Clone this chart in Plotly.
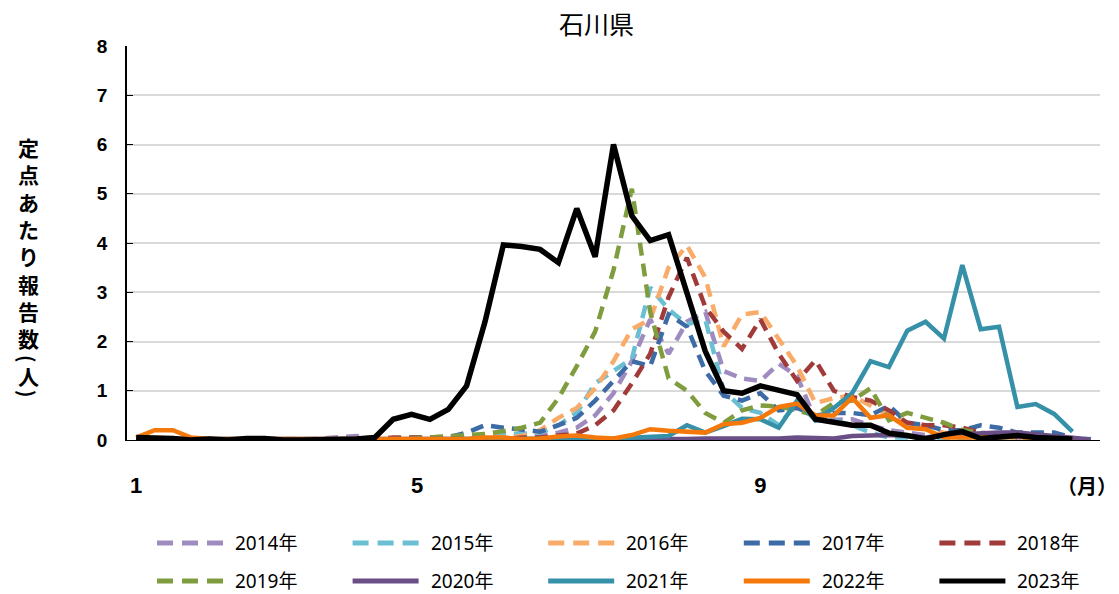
import plotly.graph_objects as go

# ---------------- data (weekly reports per sentinel) ----------------
years = ["2014年", "2015年", "2016年", "2017年", "2018年",
         "2019年", "2020年", "2021年", "2022年", "2023年"]

y2014 = [0.02, 0.02, 0, 0, 0.02, 0, 0.02, 0.02, 0, 0, 0.03,
         0.05, 0.08, 0.02, 0, 0.02, 0.02, 0.02, 0.03, 0.05, 0.05,
         0.08, 0.1, 0.15, 0.25, 0.5, 0.95, 1.6, 2.45, 1.75, 2.4,
         2.6, 1.4, 1.25, 1.2, 1.55, 1.3, 0.4, 0.4, 0.42, 0.3,
         0.2, 0.15, 0.1, 0.08, 0.05, 0.1, 0.05, 0.05, 0.03, 0.02, 0.02]
y2015 = [0.02, 0.02, 0.02, 0, 0, 0.02, 0, 0, 0.02, 0, 0, 0, 0, 0.02, 0.02, 0.05, 0.05, 0.05,
         0.05, 0.08, 0.1, 0.12, 0.15, 0.3, 0.55, 1.15, 1.4, 1.65,
         3.1, 2.65, 2.35, 2.45, 1.0, 0.65, 0.55, 0.3, 0.75, 0.45,
         0.4, 0.3, 0.15, 0.05, 0.05, 0.03, 0.02, 0.02, 0.02, 0.02,
         0.02, 0.02, 0.02, 0.02, 0.02]
y2016 = [0.02, 0, 0, 0, 0.02, 0, 0, 0.02, 0, 0, 0, 0, 0, 0.02, 0.03, 0.03, 0.05, 0.08,
         0.1, 0.08, 0.05, 0.08, 0.2, 0.45, 0.65, 1.05, 1.6, 2.25,
         2.45, 3.5, 3.95, 3.3, 1.9, 2.55, 2.6, 2.05, 1.5, 0.75,
         0.85, 0.9, 0.7, 0.5, 0.35, 0.25, 0.15, 0.1, 0.08, 0.05,
         0.05, 0.02, 0.02, 0.0]
y2017 = [0, 0, 0.02, 0, 0, 0, 0.02, 0, 0, 0, 0, 0.02, 0, 0, 0.02, 0.02, 0.03, 0.05,
         0.15, 0.3, 0.25, 0.2, 0.17, 0.3, 0.45, 0.8, 1.2, 1.6,
         1.5, 2.55, 2.3, 1.4, 0.9, 0.8, 0.95, 0.6, 0.65, 0.5,
         0.55, 0.55, 0.5, 0.7, 0.35, 0.3, 0.2, 0.2, 0.3, 0.25,
         0.15, 0.15, 0.15, 0.05]
y2018 = [0, 0, 0, 0, 0, 0.02, 0, 0, 0, 0, 0.02, 0, 0, 0.02, 0.05, 0.05, 0.05, 0.02,
         0.03, 0.02, 0.02, 0.05, 0.05,
         0.1, 0.13, 0.3, 0.6, 1.15, 1.75, 2.9, 3.7, 2.7, 2.2,
         1.85, 2.45, 1.75, 1.2, 1.62, 1.0, 0.87, 0.8, 0.6, 0.35,
         0.3, 0.3, 0.25, 0.15, 0.1, 0.05, 0.03, 0.02, 0.0]
y2019 = [0, 0, 0, 0, 0.02, 0, 0, 0, 0, 0.02, 0, 0, 0, 0.02, 0.02, 0.03, 0.05, 0.08,
         0.1, 0.12, 0.18, 0.25, 0.35, 0.85, 1.5, 2.2, 3.45, 5.1,
         2.6, 1.25, 1.0, 0.55, 0.35, 0.6, 0.7, 0.68, 0.6, 0.5,
         0.75, 0.8, 1.05, 0.4, 0.55, 0.45, 0.35, 0.2, 0.15, 0.08,
         0.05, 0.03, 0.02, 0.02]
y2020 = [0.02, 0.02, 0.02, 0.02, 0.02, 0.02, 0.02, 0.02, 0.02, 0.02,
         0.02, 0.02, 0.02, 0.02, 0.02, 0.02, 0.02,
         0, 0, 0, 0, 0, 0, 0, 0, 0, 0, 0,
         0.02, 0.02, 0.02, 0.03, 0.03, 0.02, 0.03,
         0.03, 0.05, 0.05, 0.03, 0.08, 0.1, 0.1, 0.08, 0.05, 0.1,
         0.12, 0.13, 0.15, 0.15, 0.12, 0.07, 0.05, 0.01]
y2021 = [0.02, 0, 0, 0, 0, 0, 0, 0, 0, 0, 0, 0, 0, 0, 0, 0, 0, 0, 0, 0, 0,
         0.02, 0.02, 0.03, 0.02, 0.02, 0.03, 0.05, 0.05, 0.08,
         0.3, 0.15, 0.28, 0.43, 0.42, 0.25, 0.8, 0.4, 0.65, 0.95,
         1.6, 1.48, 2.22, 2.4, 2.06, 3.55, 2.25, 2.3, 0.67, 0.73,
         0.53, 0.17]
y2022 = [0.05, 0.2, 0.2, 0.05,
         0.02, 0.02, 0.02, 0.02, 0.02, 0.02, 0.02, 0.02, 0.02, 0.02,
         0.02, 0.02, 0.02, 0.02, 0.02,
         0.05, 0.05, 0.02, 0.03, 0.07, 0.09, 0.05, 0.03, 0.1, 0.22,
         0.19, 0.17, 0.15, 0.32, 0.35, 0.45, 0.67, 0.74, 0.5, 0.5,
         0.86, 0.45, 0.5, 0.25, 0.22, 0.05, 0.05, 0.03, 0.05, 0.08,
         0.02, 0.02, 0.02]
y2023 = [0.05, 0.05, 0.03, 0.0, 0.02, 0.0, 0.03, 0.03, 0.0, 0.0, 0.0, 0.0, 0.02,
         0.05, 0.42, 0.52, 0.42, 0.62, 1.1, 2.4, 3.96, 3.93, 3.87,
         3.6, 4.7, 3.72, 6.0, 4.55, 4.05, 4.17, 3.0, 1.8, 1.0,
         0.95, 1.1, 1.0, 0.92, 0.42, 0.36, 0.3, 0.3, 0.14, 0.09,
         0.02, 0.11, 0.17, 0.03, 0.06, 0.09, 0.05, 0.03, 0.02]

series = [y2014, y2015, y2016, y2017, y2018, y2019, y2020, y2021, y2022, y2023]

month_labels = ["1", "5", "9"]
month_label_weeks = [1, 16.3, 35]
month_unit = "（月）"
y_ticks = [0, 1, 2, 3, 4, 5, 6, 7, 8]

# ---------------- styles ----------------
colors = ["#9E8BC0", "#6BBFD3", "#F9AC6A", "#3D6BA6", "#A03B3A",
          "#7F9D3F", "#6A4F87", "#3590A8", "#F5780A", "#000000"]
dashed = [True, True, True, True, True, True, False, False, False, False]
widths = [4.5, 4.5, 4.5, 4.5, 4.5, 4.5, 4.5, 4.5, 4.5, 5.5]

W, H = 1119, 594
ML, MR, MT, MB = 127, 19, 46, 154


def px(x):
    return (x - ML) / (W - ML - MR)


def py(y):
    return (H - MB - y) / (H - MT - MB)


fig = go.Figure()
for name, vals, col, dsh, wd in zip(years, series, colors, dashed, widths):
    fig.add_trace(go.Scatter(
        x=list(range(1, len(vals) + 1)), y=vals, name=name, mode="lines",
        line=dict(color=col, width=wd, dash="13px,8px" if dsh else "solid"),
        showlegend=False))

shapes = []
annotations = []

# legend (2 rows x 5 columns)
for i, (name, col, dsh) in enumerate(zip(years, colors, dashed)):
    r, c = divmod(i, 5)
    x0 = 157 + 195.6 * c
    yy = 543 + 38 * r
    shapes.append(dict(type="line", xref="paper", yref="paper",
                       x0=px(x0), x1=px(x0 + 66), y0=py(yy), y1=py(yy),
                       line=dict(color=col, width=5, dash="16px,9px" if dsh else "solid")))
    annotations.append(dict(text=name, xref="paper", yref="paper",
                            x=px(x0 + 76), y=py(yy), xanchor="left", yanchor="middle",
                            showarrow=False,
                            font=dict(family="Noto Sans, Noto Sans CJK JP", size=19, color="#000")))

# title
annotations.append(dict(text="石川県", xref="paper", yref="paper", x=px(596), y=py(23),
                        xanchor="center", yanchor="middle", showarrow=False,
                        font=dict(family="Noto Sans CJK JP", size=25, color="#000")))

# month unit label at right end of x axis
annotations.append(dict(text="<b>%s</b>" % month_unit, xref="paper", yref="paper",
                        x=px(1087), y=py(485), xanchor="center", yanchor="middle",
                        showarrow=False,
                        font=dict(family="Noto Sans CJK JP", size=20, color="#000")))

# vertical y-axis label
ylab_text = "<br>".join("<b>%s</b>" % ch for ch in "定点あたり報告数")
annotations.append(dict(text=ylab_text, xref="paper", yref="paper",
                        x=px(28), y=py(148 + 27 * 3.5), xanchor="center", yanchor="middle",
                        showarrow=False,
                        font=dict(family="Noto Sans CJK JP", size=21, color="#000")))
for ch, yy, ang in [("(", 359, 90), ("人", 376, 0), (")", 394, 90)]:
    annotations.append(dict(text="<b>%s</b>" % ch, xref="paper", yref="paper",
                            x=px(28), y=py(yy), xanchor="center", yanchor="middle",
                            textangle=ang, showarrow=False,
                            font=dict(family="Noto Sans CJK JP", size=20 if ang else 21, color="#000")))

fig.update_layout(
    width=W, height=H,
    margin=dict(l=ML, r=MR, t=MT, b=MB, pad=0),
    plot_bgcolor="white", paper_bgcolor="white",
    shapes=shapes, annotations=annotations,
    xaxis=dict(range=[0.5, 53.5], tickmode="array", tickvals=month_label_weeks,
               ticktext=["<b>%s</b>" % t for t in month_labels],
               showgrid=False, zeroline=False, showline=True, linecolor="#000", linewidth=1,
               ticks="", ticklabelstandoff=26,
               tickfont=dict(family="Liberation Sans", size=22, color="#000")),
    yaxis=dict(range=[0, 8], tickmode="array", tickvals=y_ticks,
               ticktext=["<b>%d</b>" % v for v in y_ticks],
               showgrid=True, gridcolor="#d9d9d9", gridwidth=1.5, zeroline=False,
               showline=True, linecolor="#000", linewidth=1.5,
               ticks="inside", ticklen=6, tickcolor="#000", ticklabelstandoff=14,
               tickfont=dict(family="Liberation Sans", size=19, color="#000")),
)

fig.write_html("out.html", config={"displayModeBar": False},
               post_script="document.body.style.margin='0px';document.body.style.padding='0px';")
